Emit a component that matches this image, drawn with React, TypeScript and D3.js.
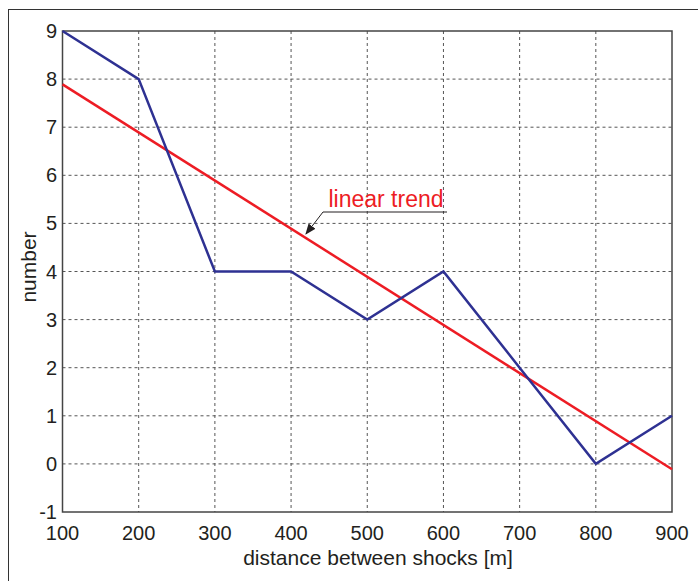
import React from "react";
import * as d3 from "d3";

const distances = [100, 200, 300, 400, 500, 600, 700, 800, 900];
const counts = [9, 8, 4, 4, 3, 4, 2, 0, 1];
const trendX = [100, 900];
const trendY = [7.89, -0.11];
const xTicks = [100, 200, 300, 400, 500, 600, 700, 800, 900];
const yTicks = [-1, 0, 1, 2, 3, 4, 5, 6, 7, 8, 9];

const W = 698;
const H = 581;
const L = 62.5, R = 672, T = 31, B = 512;

export default function App() {
  const x = d3.scaleLinear().domain([100, 900]).range([L, R]);
  const y = d3.scaleLinear().domain([-1, 9]).range([B, T]);
  const line = d3.line<[number, number]>().x(d => x(d[0])).y(d => y(d[1]));
  const dataPts = distances.map((d, i) => [d, counts[i]] as [number, number]);
  const trendPts = trendX.map((d, i) => [d, trendY[i]] as [number, number]);
  const font = "Liberation Sans, Arial, sans-serif";
  return (
    <svg width={W} height={H} style={{ position: "absolute", left: 0, top: 0 }}>
      <defs>
        <marker id="arr" viewBox="0 0 10 10" refX="9" refY="5" markerWidth="11" markerHeight="11" orient="auto" markerUnits="userSpaceOnUse">
          <path d="M0,1 L10,5 L0,9 Z" fill="#231f20" />
        </marker>
      </defs>
      <rect x={0} y={0} width={W} height={H} fill="#fff" />
      <rect x={8.5} y={9.5} width={W + 10} height={H + 10} fill="none" stroke="#333" strokeWidth={1} />
      {xTicks.slice(1, -1).map(t => (
        <line key={"gx" + t} x1={x(t)} x2={x(t)} y1={T} y2={B} stroke="#555" strokeDasharray="3,3" strokeWidth={1} />
      ))}
      {yTicks.slice(1, -1).map(t => (
        <line key={"gy" + t} x1={L} x2={R} y1={y(t)} y2={y(t)} stroke="#555" strokeDasharray="3,3" strokeWidth={1} />
      ))}
      <rect x={L} y={T} width={R - L} height={B - T} fill="none" stroke="#444" strokeWidth={1.5} />
      <path d={line(trendPts) || ""} fill="none" stroke="#ed1c24" strokeWidth={2.5} />
      <path d={line(dataPts) || ""} fill="none" stroke="#2e3192" strokeWidth={2.5} />
      {xTicks.map(t => (
        <text key={"tx" + t} x={x(t)} y={540} textAnchor="middle" fontFamily={font} fontSize={20} fill="#231f20">{t}</text>
      ))}
      {yTicks.map(t => (
        <text key={"ty" + t} x={57} y={y(t) + 7} textAnchor="end" fontFamily={font} fontSize={20} fill="#231f20">{t}</text>
      ))}
      <text x={378} y={565} textAnchor="middle" fontFamily={font} fontSize={21} fill="#231f20">distance between shocks [m]</text>
      <text transform={`translate(36,267) rotate(-90)`} textAnchor="middle" fontFamily={font} fontSize={21} fill="#231f20">number</text>
      <text x={386} y={207} textAnchor="middle" fontFamily={font} fontSize={23} fill="#ed1c24">linear trend</text>
      <line x1={447} x2={323} y1={212} y2={212} stroke="#231f20" strokeWidth={1} />
      <line x1={323} x2={306} y1={212} y2={234} stroke="#231f20" strokeWidth={1} markerEnd="url(#arr)" />
    </svg>
  );
}
